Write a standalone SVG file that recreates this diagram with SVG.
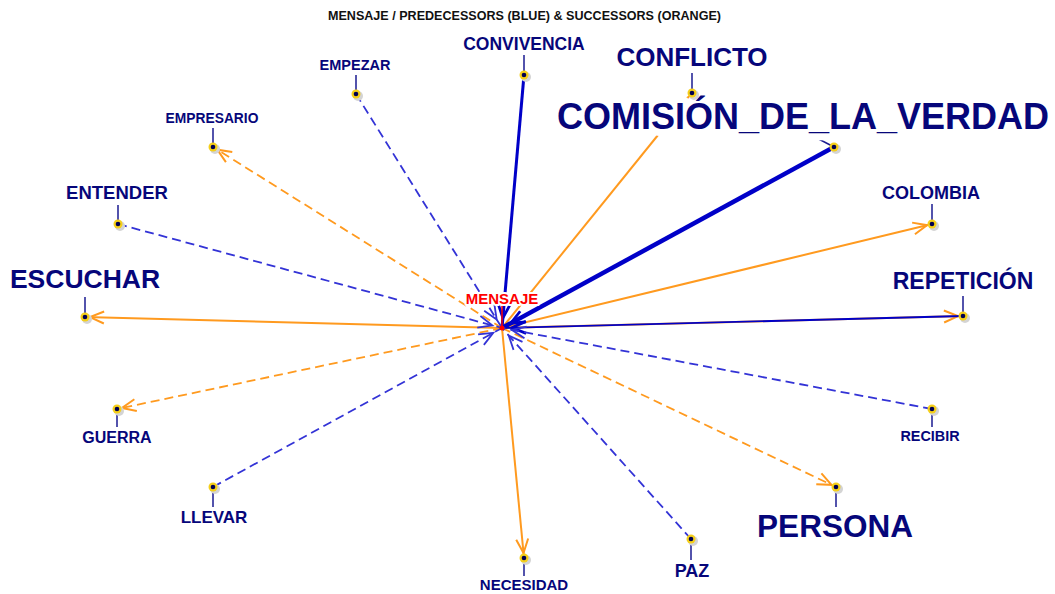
<svg xmlns="http://www.w3.org/2000/svg" width="1055" height="594" viewBox="0 0 1055 594">
<style>
.lbl{font-family:"Liberation Sans",Arial,sans-serif;font-weight:bold;fill:#06067a;text-anchor:middle;stroke:#ffffff;stroke-width:6;stroke-linejoin:round;paint-order:stroke}
.stick{stroke:#1a1a90;stroke-width:1.5}
.ring{fill:#f5cf1a}
.dot{fill:#000050}
.shadow{fill:#d4d4d4}
.pb{stroke:#3333d6;stroke-width:1.8;stroke-dasharray:9,5;fill:none;marker-end:url(#ab)}
.pbs{stroke:#0000c8;fill:none;marker-end:url(#abs)}
.so{stroke:#ff9a1f;stroke-width:2;fill:none;marker-end:url(#ao)}
.sod{stroke:#ff9a1f;stroke-width:1.8;stroke-dasharray:9,5;fill:none;marker-end:url(#ao)}
</style>
<defs>
<marker id="ab" markerUnits="userSpaceOnUse" markerWidth="30" markerHeight="20" refX="24" refY="6" orient="auto" overflow="visible">
<path d="M0,0 L14,6 L0,12" fill="none" stroke="#3333d6" stroke-width="1.8"/>
</marker>
<marker id="abs" markerUnits="userSpaceOnUse" markerWidth="30" markerHeight="20" refX="24" refY="6" orient="auto" overflow="visible">
<path d="M0,0 L14,6 L0,12" fill="none" stroke="#0000c8" stroke-width="2.8"/>
</marker>
<marker id="ao" markerUnits="userSpaceOnUse" markerWidth="30" markerHeight="20" refX="19" refY="6" orient="auto" overflow="visible">
<path d="M0,0 L14,6 L0,12" fill="none" stroke="#ff9a1f" stroke-width="2"/>
</marker>
</defs>
<rect width="1055" height="594" fill="#ffffff"/>
<text x="524.5" y="20" font-family="Liberation Sans,Arial,sans-serif" font-weight="bold" font-size="12" fill="#111" text-anchor="middle" textLength="393" lengthAdjust="spacingAndGlyphs">MENSAJE / PREDECESSORS (BLUE) &amp; SUCCESSORS (ORANGE)</text>
<g id="edges">
<line class="so" x1="502" y1="328" x2="692" y2="93" stroke-width="3"/>
<line class="so" x1="502" y1="328" x2="932" y2="224" stroke-width="3"/>
<line class="so" x1="502" y1="328" x2="963" y2="316"/>
<line class="sod" x1="502" y1="328" x2="836" y2="487"/>
<line class="so" x1="502" y1="328" x2="524" y2="558"/>
<line class="sod" x1="502" y1="328" x2="117" y2="409"/>
<line class="so" x1="502" y1="328" x2="85" y2="317"/>
<line class="sod" x1="502" y1="328" x2="213" y2="147"/>
<line class="pbs" x1="524" y1="75" x2="502" y2="328" stroke-width="3"/>
<line class="pbs" x1="834" y1="147" x2="502" y2="328" stroke-width="4.5"/>
<line class="pbs" x1="963" y1="316" x2="502" y2="328" stroke-width="1.8" stroke="#2a2ac8"/>
<line class="pb" x1="932" y1="409" x2="502" y2="328"/>
<line class="pb" x1="691" y1="539" x2="502" y2="328"/>
<line class="pb" x1="213" y1="487" x2="502" y2="328"/>
<line class="pb" x1="118" y1="224" x2="502" y2="328"/>
<line class="pb" x1="356" y1="94" x2="502" y2="328"/>
</g>
<g id="node-MENSAJE">
<line x1="502" y1="306" x2="502" y2="328" stroke="#ff0000" stroke-width="1.5"/>
<circle cx="502" cy="328" r="2.5" fill="#ff0000"/>
<text x="502" y="304" font-family="Liberation Sans,Arial,sans-serif" font-weight="bold" font-size="15" fill="#ff0000" text-anchor="middle" stroke="#ffffff" stroke-width="4" stroke-linejoin="round" paint-order="stroke">MENSAJE</text>
</g>
<g id="node-CONVIVENCIA">
<line class="stick" x1="524" y1="55" x2="524" y2="75"/>
<circle class="shadow" cx="526" cy="77" r="5"/><circle class="ring" cx="524" cy="75" r="4.5"/><circle class="dot" cx="524" cy="75" r="2.3"/>
<text class="lbl" x="524" y="50" font-size="17.5">CONVIVENCIA</text>
</g>
<g id="node-COMISION">
<line class="stick" x1="811" y1="135" x2="834" y2="147"/>
<circle class="shadow" cx="836" cy="149" r="5"/><circle class="ring" cx="834" cy="147" r="4.5"/><circle class="dot" cx="834" cy="147" r="2.3"/>
<text class="lbl" x="803" y="129" font-size="36" style="stroke-width:14">COMISIÓN_DE_LA_VERDAD</text>
</g>
<g id="node-CONFLICTO">
<line class="stick" x1="692" y1="73" x2="692" y2="93"/>
<circle class="shadow" cx="694" cy="95" r="5"/><circle class="ring" cx="692" cy="93" r="4.5"/><circle class="dot" cx="692" cy="93" r="2.3"/>
<text class="lbl" x="692" y="66" font-size="26">CONFLICTO</text>
</g>
<g id="node-COLOMBIA">
<line class="stick" x1="932" y1="204" x2="932" y2="224"/>
<circle class="shadow" cx="934" cy="226" r="5"/><circle class="ring" cx="932" cy="224" r="4.5"/><circle class="dot" cx="932" cy="224" r="2.3"/>
<text class="lbl" x="931" y="199" font-size="18">COLOMBIA</text>
</g>
<g id="node-REPETICION">
<line class="stick" x1="963" y1="296" x2="963" y2="316"/>
<circle class="shadow" cx="965" cy="318" r="5"/><circle class="ring" cx="963" cy="316" r="4.5"/><circle class="dot" cx="963" cy="316" r="2.3"/>
<text class="lbl" x="963" y="289" font-size="23">REPETICIÓN</text>
</g>
<g id="node-RECIBIR">
<line class="stick" x1="932" y1="409" x2="932" y2="427"/>
<circle class="shadow" cx="934" cy="411" r="5"/><circle class="ring" cx="932" cy="409" r="4.5"/><circle class="dot" cx="932" cy="409" r="2.3"/>
<text class="lbl" x="930" y="441" font-size="14.4">RECIBIR</text>
</g>
<g id="node-PERSONA">
<line class="stick" x1="836" y1="487" x2="836" y2="507"/>
<circle class="shadow" cx="838" cy="489" r="5"/><circle class="ring" cx="836" cy="487" r="4.5"/><circle class="dot" cx="836" cy="487" r="2.3"/>
<text class="lbl" x="835" y="537" font-size="31.5">PERSONA</text>
</g>
<g id="node-PAZ">
<line class="stick" x1="691" y1="539" x2="691" y2="560"/>
<circle class="shadow" cx="693" cy="541" r="5"/><circle class="ring" cx="691" cy="539" r="4.5"/><circle class="dot" cx="691" cy="539" r="2.3"/>
<text class="lbl" x="692" y="577" font-size="18">PAZ</text>
</g>
<g id="node-NECESIDAD">
<line class="stick" x1="524" y1="558" x2="524" y2="576"/>
<circle class="shadow" cx="526" cy="560" r="5"/><circle class="ring" cx="524" cy="558" r="4.5"/><circle class="dot" cx="524" cy="558" r="2.3"/>
<text class="lbl" x="524" y="590" font-size="15">NECESIDAD</text>
</g>
<g id="node-LLEVAR">
<line class="stick" x1="213" y1="487" x2="213" y2="507"/>
<circle class="shadow" cx="215" cy="489" r="5"/><circle class="ring" cx="213" cy="487" r="4.5"/><circle class="dot" cx="213" cy="487" r="2.3"/>
<text class="lbl" x="214" y="523" font-size="17">LLEVAR</text>
</g>
<g id="node-GUERRA">
<line class="stick" x1="117" y1="409" x2="117" y2="427"/>
<circle class="shadow" cx="119" cy="411" r="5"/><circle class="ring" cx="117" cy="409" r="4.5"/><circle class="dot" cx="117" cy="409" r="2.3"/>
<text class="lbl" x="117" y="443" font-size="16">GUERRA</text>
</g>
<g id="node-ESCUCHAR">
<line class="stick" x1="85" y1="297" x2="85" y2="317"/>
<circle class="shadow" cx="87" cy="319" r="5"/><circle class="ring" cx="85" cy="317" r="4.5"/><circle class="dot" cx="85" cy="317" r="2.3"/>
<text class="lbl" x="85" y="288" font-size="26.5">ESCUCHAR</text>
</g>
<g id="node-ENTENDER">
<line class="stick" x1="118" y1="205" x2="118" y2="224"/>
<circle class="shadow" cx="120" cy="226" r="5"/><circle class="ring" cx="118" cy="224" r="4.5"/><circle class="dot" cx="118" cy="224" r="2.3"/>
<text class="lbl" x="117" y="199" font-size="18.5">ENTENDER</text>
</g>
<g id="node-EMPRESARIO">
<line class="stick" x1="213" y1="128" x2="213" y2="147"/>
<circle class="shadow" cx="215" cy="149" r="5"/><circle class="ring" cx="213" cy="147" r="4.5"/><circle class="dot" cx="213" cy="147" r="2.3"/>
<text class="lbl" x="212" y="123" font-size="13.8">EMPRESARIO</text>
</g>
<g id="node-EMPEZAR">
<line class="stick" x1="356" y1="75" x2="356" y2="94"/>
<circle class="shadow" cx="358" cy="96" r="5"/><circle class="ring" cx="356" cy="94" r="4.5"/><circle class="dot" cx="356" cy="94" r="2.3"/>
<text class="lbl" x="355" y="70" font-size="14.5">EMPEZAR</text>
</g>
</svg>
